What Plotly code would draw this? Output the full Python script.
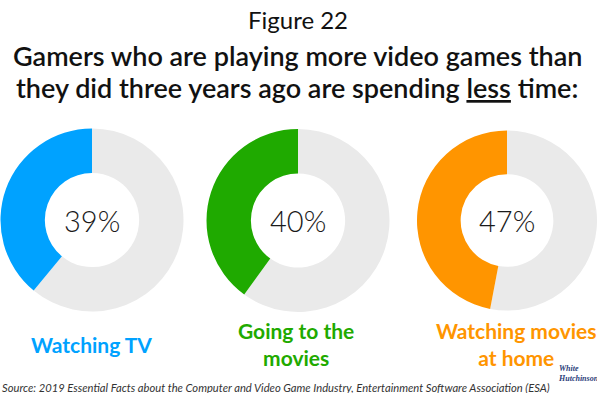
import plotly.graph_objects as go

# Share of gamers spending less time on each activity
activities = ["Watching TV", "Going to the<br>movies", "Watching movies<br>at home"]
less_time_pct = [39, 40, 47]
colors = ["#00A2FF", "#1FAA00", "#FF9500"]
rest_color = "#EAEAEA"

heading_lines = [
    "Gamers who are playing more video games than",
    "they did three years ago are spending <u>less</u> time:",
]

W, H = 597, 393

# Donut placement in pixels: (center x, center y, radius)
donut_px = [(92, 220, 91.5), (298, 220.5, 91.5), (507, 220.5, 90)]
label_x_px = [91, 296, 516]


def px_x(x):
    return x / W


def px_y(y):
    return 1 - y / H


fig = go.Figure()

for i, (pct, col) in enumerate(zip(less_time_pct, colors)):
    cx, cy, r = donut_px[i]
    # remainder first, going clockwise from 12 o'clock, so the coloured share
    # ends back at the top on the left-hand side
    fig.add_trace(go.Pie(
        values=[100 - pct, pct],
        labels=["Other", "Less time"],
        marker=dict(colors=[rest_color, col], line=dict(width=0)),
        hole=0.515,
        sort=False,
        direction="clockwise",
        rotation=0,
        textinfo="none",
        hoverinfo="skip",
        showlegend=False,
        domain=dict(x=[max(0, px_x(cx - r)), min(1, px_x(cx + r))],
                    y=[px_y(cy + r), px_y(cy - r)]),
    ))
    fig.add_annotation(
        x=px_x(cx), y=px_y(cy), xref="paper", yref="paper",
        text=f"{pct}%", showarrow=False,
        font=dict(family="Lato", size=29, color="#1a1a1a", weight=300),
        xanchor="center", yanchor="middle",
    )
    fig.add_annotation(
        x=px_x(label_x_px[i]), y=px_y(344), xref="paper", yref="paper",
        text=f"<b>{activities[i]}</b>", showarrow=False,
        font=dict(family="Lato", size=21, color=col),
        xanchor="center", yanchor="middle", align="center",
    )

# Headings
fig.add_annotation(
    x=px_x(298), y=px_y(19), xref="paper", yref="paper",
    text="Figure 22", showarrow=False,
    font=dict(family="Lato", size=24, color="#111111"),
    xanchor="center", yanchor="middle",
)
for line, y in zip(heading_lines, [56, 87]):
    fig.add_annotation(
        x=px_x(297), y=px_y(y), xref="paper", yref="paper",
        text=line, showarrow=False, align="center",
        font=dict(family="Lato", size=27, color="#111111", weight=600),
        xanchor="center", yanchor="middle",
    )

# Source line
fig.add_annotation(
    x=px_x(0), y=px_y(387), xref="paper", yref="paper",
    text="<i>Source: 2019 Essential Facts about the Computer and Video Game Industry, "
         "Entertainment Software Association (ESA)</i>",
    showarrow=False, align="left",
    font=dict(family="Lato", size=11.2, color="#333333"),
    xanchor="left", yanchor="middle",
)

# Publisher mark
fig.add_annotation(
    x=px_x(556), y=px_y(373), xref="paper", yref="paper",
    text="<b><i>White<br>Hutchinson</i></b>", showarrow=False, align="left",
    font=dict(family="Liberation Serif", size=8, color="#2B3D7A"),
    xanchor="left", yanchor="middle",
)

fig.update_layout(
    width=W, height=H,
    margin=dict(l=0, r=0, t=0, b=0),
    paper_bgcolor="white", plot_bgcolor="white",
)

fig.write_html("out.html")
